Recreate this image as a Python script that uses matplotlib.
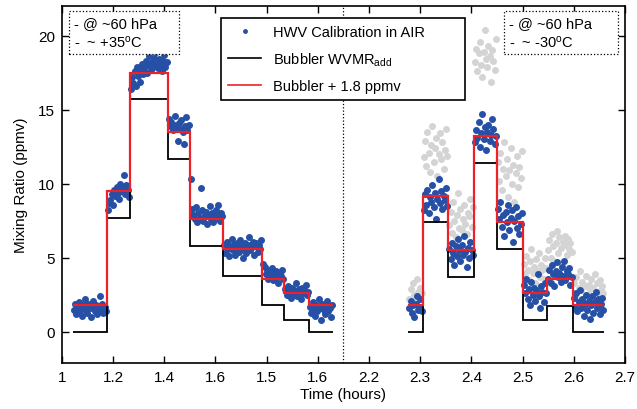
import numpy as np
import matplotlib
matplotlib.use("Agg")
import matplotlib.pyplot as plt
from matplotlib.lines import Line2D

plt.rcParams['font.family'] = ['Liberation Sans', 'DejaVu Sans']
plt.rcParams['mathtext.fontset'] = 'custom'
plt.rcParams['mathtext.rm'] = 'Liberation Sans'
plt.rcParams['mathtext.it'] = 'Liberation Sans:italic'

# x axis is drawn in tick-index units, labels as printed on the original
tick_labels = ['1', '1.2', '1.4', '1.6', '1.5', '1.6', '2.2', '2.3', '2.4', '2.5', '2.6', '2.7']
break_pos = 5.49

# bubbler steps (edges in axis units, levels in ppmv)
edges_left = [0.21, 0.88, 1.33, 2.07, 2.50, 3.15, 3.92, 4.35, 4.83, 5.30]
bubbler_left = [0.0, 7.7, 15.7, 11.7, 5.8, 3.8, 1.8, 0.8, 0.0]
edges_right = [6.77, 7.05, 7.55, 8.05, 8.50, 9.01, 9.48, 9.98, 10.60]
bubbler_right = [0.0, 7.4, 3.7, 11.4, 5.6, 0.8, 1.75, 0.0]
offset = 1.8

# HWV in air, one list per bubbler step (left steps then right steps)
hwv_left = [
    [1.5, 1.9, 1.2, 1.7, 2.0, 1.4, 1.6, 1.1, 1.8, 2.2, 1.5, 1.3, 1.9, 1.6, 1.0, 1.7, 2.1, 1.4, 1.8, 1.2, 1.6, 2.4, 1.5, 1.9, 1.3, 1.7, 1.4],
    [8.2, 8.7, 8.9, 9.3, 8.6, 9.6, 9.2, 9.8, 9.4, 9.0, 10.0, 9.5, 9.7, 10.6, 9.3, 9.9, 9.6, 9.1],
    [16.4, 17.2, 16.8, 17.6, 16.6, 17.9, 17.3, 16.9, 17.7, 18.1, 17.4, 17.8, 18.3, 17.5, 18.0, 18.6, 17.7, 18.2, 17.9, 18.5, 18.9, 18.1, 17.8, 18.4, 18.0, 17.6, 18.3, 18.7, 17.9, 18.2],
    [14.4, 13.9, 14.2, 13.6, 14.0, 14.6, 13.8, 12.9, 14.1, 13.7, 14.3, 13.5, 12.7, 13.9, 14.5, 13.6, 14.0],
    [10.3, 8.3, 7.9, 7.6, 8.4, 7.4, 8.0, 7.7, 9.7, 8.2, 7.5, 7.9, 8.1, 7.3, 7.8, 8.5, 7.6, 8.0, 7.4, 7.9, 8.2, 7.7, 8.6, 7.5, 8.0, 7.8],
    [5.9, 5.3, 6.1, 5.6, 5.1, 5.8, 6.3, 5.5, 5.9, 5.2, 6.0, 5.7, 5.4, 6.2, 5.8, 5.0, 5.6, 6.0, 5.3, 5.9, 6.4, 5.5, 5.7, 6.1, 5.2, 5.8, 6.0, 5.4, 5.9, 5.6, 6.2],
    [4.6, 4.4, 3.9, 4.2, 3.6, 4.0, 3.8, 4.3, 3.5, 3.9, 4.1, 3.7, 3.3, 4.0, 3.8, 4.2, 3.6],
    [2.9, 2.5, 3.1, 2.7, 2.3, 3.0, 2.6, 2.8, 3.3, 2.4, 2.7, 2.9, 2.2, 3.0, 2.6, 2.8, 3.2, 2.5, 2.7],
    [1.7, 1.3, 2.0, 1.5, 1.1, 1.8, 1.4, 2.2, 1.6, 0.8, 1.9, 1.5, 1.2, 1.7, 2.1, 1.4, 1.6, 1.0, 1.8],
]
hwv_right = [
    [1.6, 2.1, 1.3, 1.8, 1.0, 1.9, 2.4, 1.5, 1.7, 2.2, 1.4],
    [8.2, 9.3, 8.6, 9.6, 8.0, 9.1, 8.8, 9.9, 8.4, 9.4, 7.6, 9.0, 10.3, 8.7, 9.5, 8.3, 9.2, 8.9, 9.7, 8.5],
    [5.6, 4.9, 6.0, 5.3, 4.5, 5.8, 5.1, 6.3, 5.5, 4.8, 5.9, 5.2, 6.5, 5.4, 4.4, 5.7, 5.0, 6.1, 5.5, 5.2],
    [12.8, 13.6, 13.1, 14.2, 12.5, 13.4, 14.7, 13.0, 13.8, 12.3, 13.5, 14.0, 12.9, 13.3, 14.4, 13.7, 12.7, 13.2],
    [8.3, 7.6, 8.8, 7.1, 7.9, 6.5, 8.1, 7.4, 8.6, 6.9, 7.7, 8.2, 6.1, 7.5, 8.4, 7.0, 7.8, 6.6, 7.3, 8.0],
    [3.2, 2.6, 3.6, 2.2, 2.9, 1.8, 3.4, 2.5, 3.0, 2.1, 2.8, 3.9, 2.4, 1.6, 3.1, 2.7, 2.0, 3.3, 2.6],
    [3.6, 4.2, 3.3, 4.5, 3.9, 3.1, 4.1, 4.7, 3.7, 4.0, 3.4, 4.4, 3.8, 4.8, 3.5, 4.1, 3.9, 4.3, 3.2, 3.7],
    [2.3, 1.7, 2.6, 1.4, 2.0, 2.8, 1.6, 2.2, 1.1, 1.9, 2.5, 1.5, 2.1, 0.9, 1.8, 2.4, 1.3, 2.0, 2.7, 1.6, 2.2, 1.2, 1.9, 2.3, 1.5],
]
# uncorrected (grey) points in the cold run
hwv_grey = [
    [2.2, 2.9, 1.9, 3.3, 2.5, 2.0, 3.6, 2.7, 2.3, 3.0, 2.6],
    [11.8, 12.9, 11.2, 13.5, 12.1, 10.8, 12.6, 13.9, 11.5, 12.4, 13.1, 10.5, 12.0, 13.4, 11.7, 12.8, 11.0, 12.3, 13.7, 11.9],
    [7.2, 8.1, 6.7, 8.8, 7.5, 6.4, 7.9, 9.4, 7.0, 8.3, 6.9, 7.6, 8.6, 7.3, 6.6, 8.0, 7.8, 9.0, 7.1, 8.4],
    [18.2, 19.1, 17.6, 18.8, 19.6, 18.0, 17.2, 18.9, 20.4, 18.4, 17.9, 19.3, 18.6, 16.9, 19.0, 18.3, 17.7, 19.8],
    [11.5, 10.2, 12.1, 9.6, 11.0, 12.8, 10.5, 11.7, 9.1, 10.9, 12.4, 10.0, 11.3, 8.8, 10.7, 11.9, 9.8, 11.1, 10.4, 12.2],
    [4.6, 3.9, 5.1, 4.2, 3.5, 4.8, 5.6, 4.0, 4.4, 3.3, 4.9, 4.1, 5.3, 3.7, 4.5, 4.2, 3.6, 5.0, 4.3],
    [5.5, 6.2, 5.0, 6.6, 5.8, 4.8, 6.0, 6.8, 5.3, 6.4, 5.7, 4.6, 6.1, 5.9, 6.5, 5.2, 6.3, 5.6, 6.0, 5.4],
    [3.3, 2.6, 3.7, 2.2, 3.0, 4.1, 2.8, 3.4, 2.0, 3.1, 3.8, 2.5, 3.2, 2.9, 3.6, 2.3, 3.0, 3.9, 2.7, 3.3, 2.4, 3.5, 2.8, 3.1, 2.6],
]

blue = '#2650a6'
grey = '#d4d4d4'
red = '#ec2228'


def sample_times(edges, groups, pad=0.02):
    xs, ys = [], []
    for i, vals in enumerate(groups):
        xs.append(np.linspace(edges[i] + pad, edges[i + 1] - pad, len(vals)))
        ys.append(np.asarray(vals))
    return np.concatenate(xs), np.concatenate(ys)


fig = plt.figure(figsize=(6.37, 4.10), dpi=100)
ax = fig.add_axes([0.097, 0.112, 0.884, 0.871])

xg, yg = sample_times(edges_right, hwv_grey)
ax.plot(xg, yg, 'o', ms=4.0, mfc=grey, mec=grey, zorder=1)

for edges, groups in [(edges_left, hwv_left), (edges_right, hwv_right)]:
    xb, yb = sample_times(edges, groups)
    ax.plot(xb, yb, 'o', ms=4.0, mfc=blue, mec=blue, zorder=2)

for edges, levels in [(edges_left, bubbler_left), (edges_right, bubbler_right)]:
    ax.stairs(levels, edges, baseline=None, color='k', lw=1.3, zorder=3)
    ax.stairs(np.array(levels) + offset, edges, baseline=None, color=red, lw=1.6, zorder=4)

ax.axvline(break_pos, color='k', ls=':', lw=0.9, zorder=0)

ax.set_xlim(0, 11)
ax.set_ylim(-2.1, 22)
ax.set_xticks(np.arange(len(tick_labels)))
ax.set_xticklabels(tick_labels)
ax.set_yticks([0, 5, 10, 15, 20])
ax.tick_params(direction='in', top=True, right=True, length=5, width=1, labelsize=11, pad=5)
for s in ax.spines.values():
    s.set_linewidth(1.2)
ax.set_xlabel('Time (hours)', fontsize=11, labelpad=2)
ax.set_ylabel('Mixing Ratio (ppmv)', fontsize=11, labelpad=7)

handles = [Line2D([], [], ls='none', marker='.', ms=5, color=blue),
           Line2D([], [], color='k', lw=1.2),
           Line2D([], [], color=red, lw=1.2)]
labels = ['HWV Calibration in AIR' + '\u00a0' * 8, r'Bubbler WVMR$_{\mathrm{add}}$', 'Bubbler + 1.8 ppmv']
leg = ax.legend(handles, labels, loc='upper left', bbox_to_anchor=(0.282, 0.966),
                borderaxespad=0, fancybox=False, edgecolor='k', framealpha=1,
                fontsize=10.5, handlelength=2.3, labelspacing=0.75, borderpad=0.5)
leg.get_frame().set_linewidth(1.2)
leg.set_zorder(10)

box = dict(boxstyle='square,pad=0.35', fc='white', ec='k', ls=':', lw=0.9)
ax.text(0.022, 0.972, '- @ ~60 hPa    \n-  ~ +35$^{\\mathrm{o}}$C', transform=ax.transAxes,
        ha='left', va='top', fontsize=10.5, linespacing=1.25, bbox=box, zorder=11)
ax.text(0.795, 0.972, '- @ ~60 hPa     \n-  ~ -30$^{\\mathrm{o}}$C', transform=ax.transAxes,
        ha='left', va='top', fontsize=10.5, linespacing=1.25, bbox=box, zorder=11)

fig.savefig('out.png', dpi=100)
